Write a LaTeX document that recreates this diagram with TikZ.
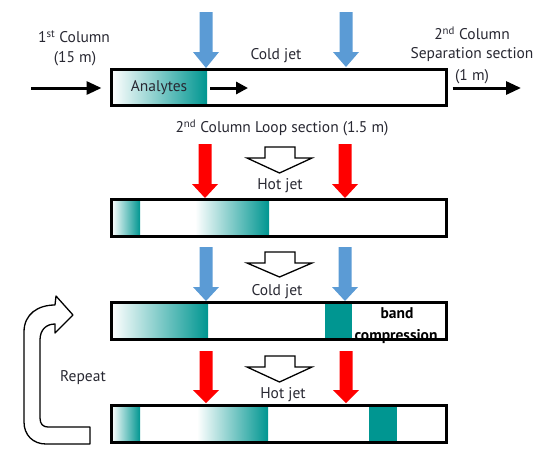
\documentclass[tikz,border=0pt]{standalone}
\usepackage{fontspec}
\setmainfont{PT Sans}
\usetikzlibrary{arrows.meta}
\definecolor{jteal}{RGB}{0,150,145}
\definecolor{jblue}{RGB}{91,155,213}
\definecolor{jred}{RGB}{255,0,0}
\definecolor{txt}{RGB}{40,40,50}
\tikzset{
  colbox/.style={draw=black, line width=3pt, rectangle, inner sep=0pt, outer sep=0pt, minimum width=335pt},
  lbl/.style={text=txt, font=\fontsize{15.5}{18}\selectfont, inner sep=0pt},
  boldlbl/.style={text=black, font=\fontsize{15.5}{18}\selectfont\bfseries, inner sep=0pt},
  flow/.style={line width=3pt, -{Triangle[length=15pt,width=13pt]}},
  hollow/.style={draw=black, line width=1.3pt, fill=white, line join=miter},
}
\newcommand\jetshape[5]{%
  \fill[#1] ({#2-6.5},#3) -- ({#2+6.5},#3) -- ({#2+6.5},#4) -- ({#2+13},#4) -- (#2,#5) -- ({#2-13},#4) -- ({#2-6.5},#4) -- cycle;}
\newcommand\hollowshape[3]{%
  \draw[hollow] (265,#1) -- (295,#1) -- (295,#2) -- (312,#2) -- (279.5,#3) -- (247,#2) -- (265,#2) -- cycle;}
\begin{document}
\begin{tikzpicture}[x=1pt,y=-1pt]
\useasboundingbox (0,0) rectangle (554,451);
% shadings inside columns
\shade[left color=white, right color=jteal] (111.5,69.5) rectangle (207,105.5);
\shade[left color=white, right color=jteal] (111.5,199.5) rectangle (140,236.5);
\shade[left color=white, right color=jteal] (195,199.5) rectangle (269,236.5);
\shade[left color=white, right color=jteal] (111.5,302.5) rectangle (208,339.5);
\fill[jteal] (325,302.5) rectangle (352,339.5);
\shade[left color=white, right color=jteal] (111.5,405.5) rectangle (140,442.5);
\shade[left color=white, right color=jteal] (197,405.5) rectangle (268,442.5);
\fill[jteal] (369,405.5) rectangle (397,442.5);
% column boxes
\node[colbox, minimum height=36pt] (box1) at (279,87.5) {};
\node[colbox, minimum height=37pt] (box2) at (279,218) {};
\node[colbox, minimum height=37pt] (box3) at (279,321) {};
\node[colbox, minimum height=37pt] (box4) at (279,424) {};
% jets
\jetshape{jblue}{206}{12}{52}{68}
\jetshape{jblue}{346}{12}{52}{67}
\jetshape{jred}{205}{144}{184}{198}
\jetshape{jred}{345}{144}{184}{198}
\jetshape{jblue}{206}{247}{287}{301}
\jetshape{jblue}{345}{247}{287}{301}
\jetshape{jred}{206}{351}{390}{403}
\jetshape{jred}{346}{351}{390}{403}
% hollow step arrows
\hollowshape{147}{158}{173}
\hollowshape{252}{263}{277}
\hollowshape{356}{367}{382}
% flow arrows
\coordinate (inflow) at (31,88);
\coordinate (outflow) at (521,88);
\coordinate (bandA) at (210,88);
\coordinate (bandB) at (248,88);
\draw[flow, shorten >=10pt] (inflow) -- (box1.west |- inflow);
\draw[flow, shorten <=6pt] (box1.east |- outflow) -- (outflow);
\draw[flow, -{Triangle[length=12pt,width=12pt]}] (bandA) -- (bandB);
% repeat arrow
\draw[hollow, line join=round] (90,444) -- (46,444) .. controls (33,444) and (24,435) .. (24,422) -- (24,332) .. controls (24,314) and (38,305) .. (55,305) -- (56,296) -- (73,315) -- (55,333) -- (55,324) .. controls (46,324) and (40,330) .. (40,340) -- (40,418) .. controls (40,424) and (43,427) .. (48,427) -- (90,427) -- cycle;
% labels
\node[lbl] (c1a) at (74,37) {1\textsuperscript{st} Column};
\node[lbl] (c1b) at (75,59) {(15 m)};
\node[lbl] (cold1) at (276,56) {Cold jet};
\node[lbl] (c2a) at (472,33) {2\textsuperscript{nd} Column};
\node[lbl] (c2b) at (472,55) {Separation section};
\node[lbl] (c2c) at (472,77) {(1 m)};
\node[lbl] (anal) at (159,88) {Analytes};
\node[lbl] (loop) at (282,128) {2\textsuperscript{nd} Column Loop section (1.5 m)};
\node[lbl] (hot1) at (280,186) {Hot jet};
\node[lbl] (cold2) at (277,292) {Cold jet};
\node[boldlbl] (band) at (397,313) {band};
\node[boldlbl] (comp) at (396,337) {compression};
\node[lbl] (hot2) at (283,395) {Hot jet};
\node[lbl] (rep) at (83,378) {Repeat};
\end{tikzpicture}
\end{document}
